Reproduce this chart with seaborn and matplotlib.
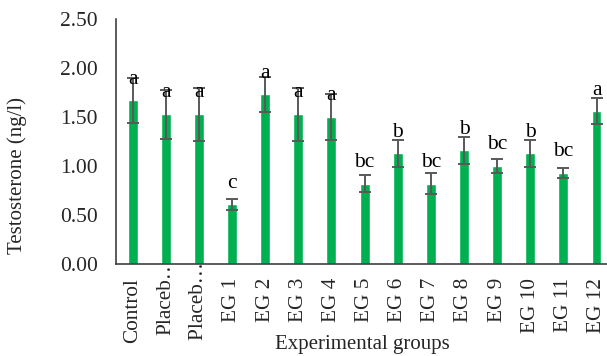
import matplotlib
matplotlib.use("Agg")
import matplotlib.pyplot as plt
import matplotlib.transforms as mtransforms
import seaborn as sns
import pandas as pd

groups = ["Control", "Placeb…", "Placeb… ", "EG 1", "EG 2", "EG 3", "EG 4", "EG 5",
          "EG 6", "EG 7", "EG 8", "EG 9", "EG 10", "EG 11", "EG 12"]
values = [1.67, 1.53, 1.53, 0.61, 1.73, 1.53, 1.50, 0.82, 1.13, 0.82, 1.16, 1.00, 1.13, 0.93, 1.56]
errors = [0.23, 0.25, 0.27, 0.055, 0.18, 0.27, 0.23, 0.09, 0.14, 0.11, 0.14, 0.075, 0.14, 0.05, 0.135]
letters = ["a", "a", "a", "c", "a", "a", "a", "bc", "b", "bc", "b", "bc", "b", "bc", "a"]
yticks = [0.0, 0.5, 1.0, 1.5, 2.0, 2.5]

sns.set_theme(style="white")
plt.rcParams["font.family"] = ["Liberation Serif", "DejaVu Serif"]

df = pd.DataFrame({"group": groups, "value": values})

W, H = 607, 356
fig = plt.figure(figsize=(6.07, 3.56), dpi=100)
ax = fig.add_axes([116 / W, 1 - 264 / H, 1.01 - 116 / W, (264 - 19) / H])

sns.barplot(data=df, x="group", y="value", color="#00B050", width=0.3,
            saturation=1, ax=ax, errorbar=None)
ax.errorbar(range(len(groups)), values, yerr=errors, fmt="none",
            ecolor="#595959", elinewidth=1.4, capsize=4.6, capthick=1.4)

for i, (v, l) in enumerate(zip(values, letters)):
    ax.text(i, v + 0.215, l, ha="center", va="center", fontsize=15.5, color="black")

ax.set_ylim(0, 2.5)
ax.set_xlim(-0.5, len(groups) - 0.5)
ax.set_yticks(yticks)
ax.set_yticklabels([f"{t:.2f}" for t in yticks], fontsize=15.5)
ax.set_xticks(range(len(groups)))
ax.set_xticklabels(groups, rotation=90, fontsize=15.3)
ax.tick_params(axis="x", length=0, pad=10)
ax.tick_params(axis="y", length=0, pad=13)

# truncated labels sit higher, with their ellipsis reaching the axis line
shift = mtransforms.ScaledTranslation(0, 21 / 100, fig.dpi_scale_trans)
for lab in ax.get_xticklabels():
    if lab.get_text().startswith("Placeb"):
        lab.set_transform(lab.get_transform() + shift)

ax.set_xlabel("")
ax.set_ylabel("")
fig.text(362 / W, 1 - 345 / H, "Experimental groups", ha="center", va="center", fontsize=15)
fig.text(17 / W, 1 - 175 / H, "Testosterone (ng/l)", ha="center", va="center",
         rotation=90, fontsize=15)

for s in ["top", "right"]:
    ax.spines[s].set_visible(False)
for s in ["left", "bottom"]:
    ax.spines[s].set_color("#404040")
    ax.spines[s].set_linewidth(1.2)

fig.savefig("out.png", dpi=100)
